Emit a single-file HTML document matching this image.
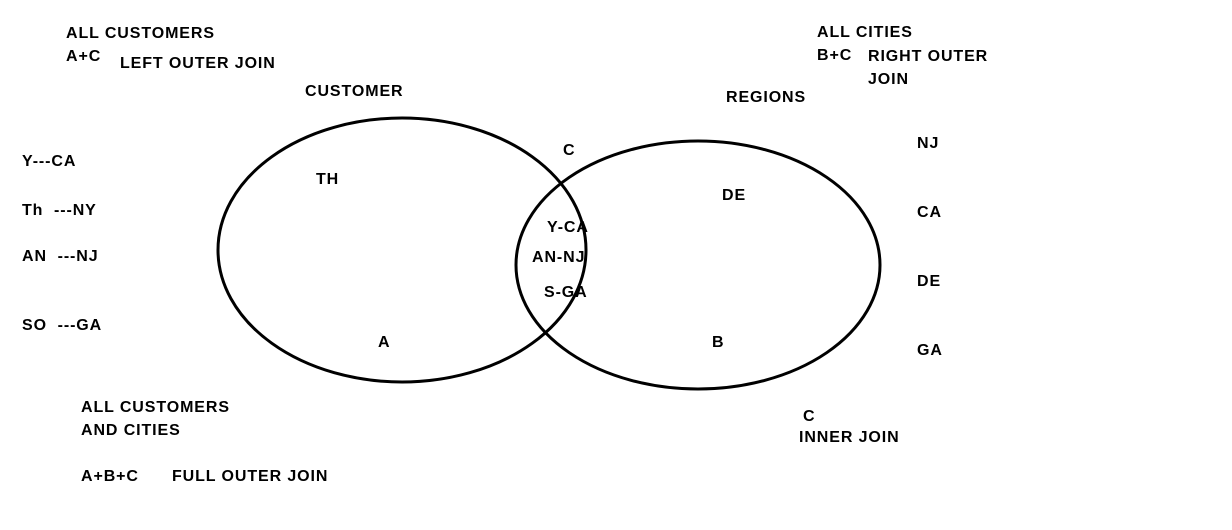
<!DOCTYPE html>
<html><head><meta charset="utf-8"><style>
html,body{margin:0;padding:0;background:#fff;}
body{width:1232px;height:530px;position:relative;overflow:hidden;font-family:"Liberation Sans",Arial,sans-serif;font-weight:bold;font-size:16px;letter-spacing:0.9px;color:#000;}
.t{position:absolute;white-space:nowrap;line-height:18px;}
svg{position:absolute;left:0;top:0;}
</style></head><body>
<svg width="1232" height="530"><ellipse cx="402" cy="250" rx="184" ry="132" fill="none" stroke="#000" stroke-width="3"/><ellipse cx="698" cy="265" rx="182" ry="124" fill="none" stroke="#000" stroke-width="3"/></svg>
<div class="t" style="left:66px;top:25px">ALL CUSTOMERS</div>
<div class="t" style="left:66px;top:48px">A+C</div>
<div class="t" style="left:120px;top:55px">LEFT OUTER JOIN</div>
<div class="t" style="left:305px;top:83px">CUSTOMER</div>
<div class="t" style="left:817px;top:24px">ALL CITIES</div>
<div class="t" style="left:817px;top:47px">B+C</div>
<div class="t" style="left:868px;top:48px">RIGHT OUTER</div>
<div class="t" style="left:868px;top:71px">JOIN</div>
<div class="t" style="left:726px;top:89px">REGIONS</div>
<div class="t" style="left:563px;top:142px">C</div>
<div class="t" style="left:22px;top:153px">Y---CA</div>
<div class="t" style="left:22px;top:202px">Th &nbsp;---NY</div>
<div class="t" style="left:22px;top:248px">AN &nbsp;---NJ</div>
<div class="t" style="left:22px;top:317px">SO &nbsp;---GA</div>
<div class="t" style="left:316px;top:171px">TH</div>
<div class="t" style="left:722px;top:187px">DE</div>
<div class="t" style="left:547px;top:219px">Y-CA</div>
<div class="t" style="left:532px;top:249px">AN-NJ</div>
<div class="t" style="left:544px;top:284px">S-GA</div>
<div class="t" style="left:378px;top:334px">A</div>
<div class="t" style="left:712px;top:334px">B</div>
<div class="t" style="left:917px;top:135px">NJ</div>
<div class="t" style="left:917px;top:204px">CA</div>
<div class="t" style="left:917px;top:273px">DE</div>
<div class="t" style="left:917px;top:342px">GA</div>
<div class="t" style="left:81px;top:399px">ALL CUSTOMERS</div>
<div class="t" style="left:81px;top:422px">AND CITIES</div>
<div class="t" style="left:81px;top:468px">A+B+C</div>
<div class="t" style="left:172px;top:468px">FULL OUTER JOIN</div>
<div class="t" style="left:803px;top:408px">C</div>
<div class="t" style="left:799px;top:429px">INNER JOIN</div>
</body></html>
